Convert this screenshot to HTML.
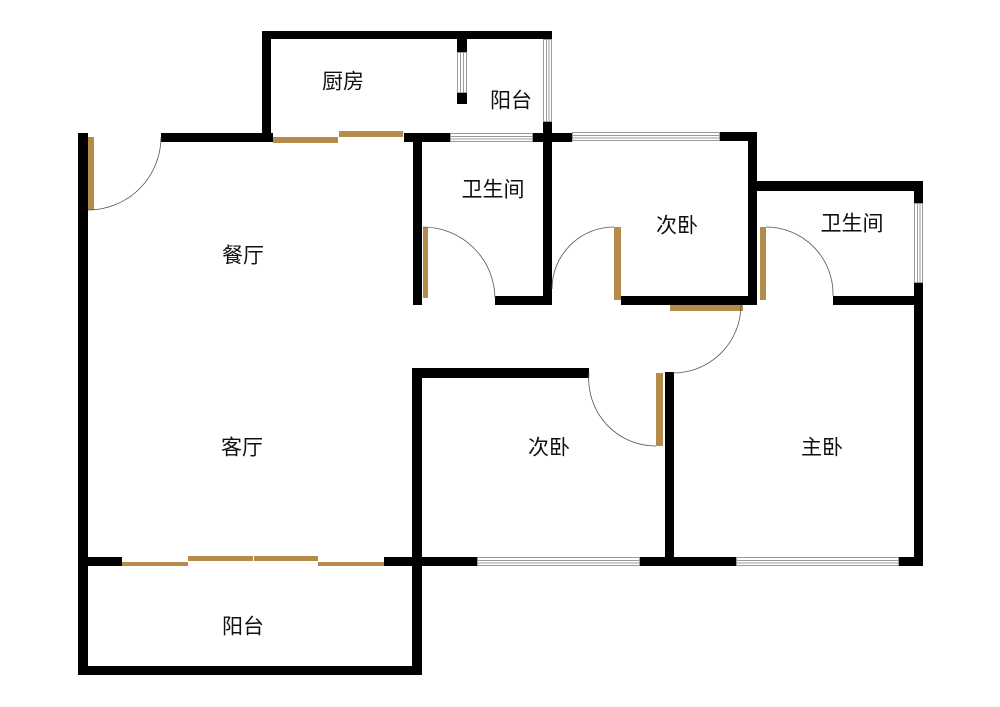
<!DOCTYPE html>
<html><head><meta charset="utf-8"><style>
html,body{margin:0;padding:0;background:#fff;}
svg{display:block;}
text{font-family:"Liberation Sans","Noto Sans CJK SC",sans-serif;font-size:21px;fill:#111;text-anchor:middle;dominant-baseline:central;}
</style></head><body>
<svg width="1000" height="707" viewBox="0 0 1000 707" xmlns="http://www.w3.org/2000/svg">
<rect width="1000" height="707" fill="#fff"/>
<defs>
<g id="w"></g>
</defs>
<g fill="#000">
<!-- kitchen -->
<rect x="262" y="31" width="290" height="8"/>
<rect x="262" y="31" width="9" height="111"/>
<rect x="457" y="39" width="10" height="13"/>
<rect x="457" y="93" width="10" height="11"/>
<rect x="543" y="122" width="9" height="183"/>
<!-- top walls -->
<rect x="161" y="133" width="112" height="9"/>
<rect x="404" y="133" width="46" height="9"/>
<rect x="533" y="133" width="39" height="9"/>
<rect x="720" y="132" width="37" height="9"/>
<rect x="748" y="132" width="9" height="173"/>
<!-- left wall -->
<rect x="78" y="133" width="10" height="542"/>
<!-- bathroom 1 -->
<rect x="413" y="142" width="9" height="163"/>
<rect x="495" y="296" width="57" height="9"/>
<!-- bedroom 2 upper -->
<rect x="621" y="296" width="136" height="9"/>
<!-- bath 2 -->
<rect x="757" y="181" width="166" height="10"/>
<rect x="914" y="181" width="9" height="22"/>
<rect x="914" y="283" width="9" height="282"/>
<rect x="833" y="296" width="90" height="9"/>
<!-- bedroom 3 -->
<rect x="412" y="368" width="177" height="10"/>
<rect x="412" y="368" width="10" height="307"/>
<rect x="665" y="372" width="9" height="193"/>
<!-- bottom -->
<rect x="78" y="557" width="44" height="9"/>
<rect x="384" y="557" width="93" height="9"/>
<rect x="640" y="557" width="96" height="9"/>
<rect x="899" y="557" width="24" height="9"/>
<rect x="78" y="666" width="344" height="9"/>
</g>
<!-- windows -->
<g fill="#fff" stroke="#9a9a9a" stroke-width="1">
<rect x="457.5" y="52.5" width="9" height="40"/>
<line x1="460.5" y1="52" x2="460.5" y2="93"/><line x1="463.5" y1="52" x2="463.5" y2="93"/>
<rect x="543.5" y="39.5" width="8" height="82"/>
<line x1="546.5" y1="39" x2="546.5" y2="122"/><line x1="549" y1="39" x2="549" y2="122"/>
<rect x="450.5" y="133.5" width="82" height="8"/>
<line x1="450" y1="136.5" x2="533" y2="136.5"/><line x1="450" y1="139" x2="533" y2="139"/>
<rect x="572.5" y="132.5" width="147" height="8"/>
<line x1="572" y1="135.5" x2="720" y2="135.5"/><line x1="572" y1="138" x2="720" y2="138"/>
<rect x="914.5" y="203.5" width="8" height="79"/>
<line x1="917.5" y1="203" x2="917.5" y2="283"/><line x1="920" y1="203" x2="920" y2="283"/>
<rect x="477.5" y="557.5" width="162" height="8"/>
<line x1="477" y1="560.5" x2="640" y2="560.5"/><line x1="477" y1="563" x2="640" y2="563"/>
<rect x="736.5" y="557.5" width="162" height="8"/>
<line x1="736" y1="560.5" x2="899" y2="560.5"/><line x1="736" y1="563" x2="899" y2="563"/>
</g>
<!-- gold doors -->
<g fill="#b58b4c">
<rect x="273" y="137" width="65" height="6"/>
<rect x="339" y="131" width="64" height="6"/>
<rect x="88" y="137" width="6" height="73"/>
<rect x="423" y="227" width="5" height="71"/>
<rect x="614" y="227" width="7" height="73"/>
<rect x="670" y="305" width="73" height="6"/>
<rect x="760" y="227" width="6" height="73"/>
<rect x="656" y="373" width="7" height="73"/>
<rect x="122" y="562" width="66" height="4"/>
<rect x="188" y="556" width="65" height="5"/>
<rect x="254" y="556" width="64" height="5"/>
<rect x="318" y="562" width="66" height="4"/>
</g>
<!-- arcs -->
<g fill="none" stroke="#555" stroke-width="0.8">
<path d="M161 137 A73 73 0 0 1 88 210"/>
<path d="M423 227 A72 72 0 0 1 495 298"/>
<path d="M614 227 A62 62 0 0 0 552 289"/>
<path d="M766 227 A67 67 0 0 1 833 296"/>
<path d="M741 305 A68 68 0 0 1 673 373"/>
<path d="M589 373 A67 67 0 0 0 656 446"/>
</g>
<text x="343" y="82">厨房</text>
<text x="511" y="101">阳台</text>
<text x="493" y="190">卫生间</text>
<text x="677" y="226">次卧</text>
<text x="852" y="224">卫生间</text>
<text x="243" y="256">餐厅</text>
<text x="242" y="448">客厅</text>
<text x="549" y="448">次卧</text>
<text x="822" y="448">主卧</text>
<text x="243" y="627">阳台</text>
</svg>
</body></html>
